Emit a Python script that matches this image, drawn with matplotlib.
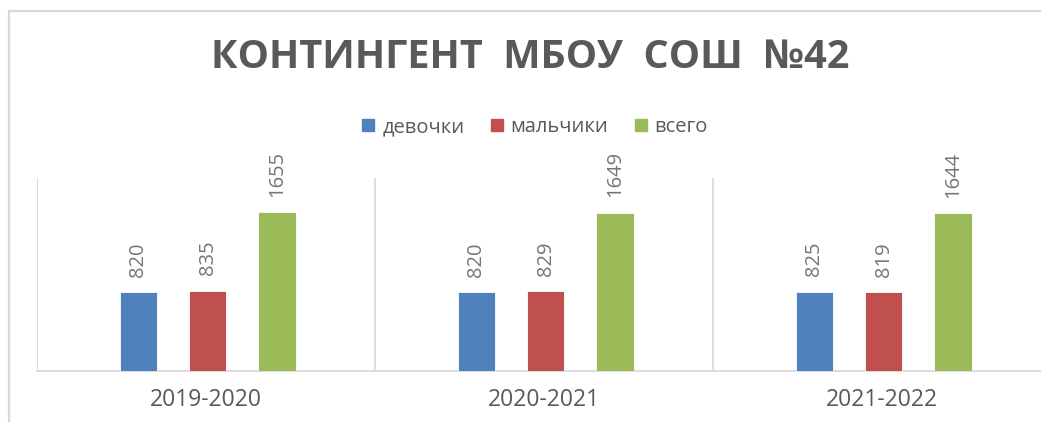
import matplotlib
matplotlib.use('Agg')
from matplotlib import pyplot as plt
from matplotlib.lines import Line2D
from matplotlib.patches import Rectangle
import numpy as np

# данные
years = ['2019-2020', '2020-2021', '2021-2022']
series_names = ['девочки', 'мальчики', 'всего']
girls = [820, 820, 825]
boys = [835, 829, 819]
total = [1655, 1649, 1644]

colors = ['#4F81BD', '#C0504D', '#9BBB59']
TEXT = '#595959'
GRID = '#D9D9D9'

plt.rcParams['font.family'] = ['Open Sans', 'DejaVu Sans']

W, H = 1041, 422
fig = plt.figure(figsize=(W / 100, H / 100), dpi=100)

# рамка диаграммы (справа и снизу обрезана)
fig.patches.append(Rectangle((9 / W, -0.1), 1.2, 1 - 11 / H + 0.1,
                             transform=fig.transFigure, fill=False,
                             edgecolor=GRID, linewidth=1.6))

# область построения: от 37 px, категория 338 px шириной
ax = fig.add_axes([37 / W, (H - 371) / H, 3 * 338 / W, 193 / H])
ax.set_clip_on(False)

x = np.arange(len(years))
bar_w = 0.11
offsets = [-0.2, 0.005, 0.21]
for i, vals in enumerate([girls, boys, total]):
    bars = ax.bar(x + offsets[i], vals, bar_w, color=colors[i],
                  edgecolor='white', linewidth=0.6, zorder=3)
    for b, v in zip(bars, vals):
        ax.annotate(str(v), (b.get_x() + b.get_width() / 2, v),
                    xytext=(0, 11), textcoords='offset points',
                    rotation=90, ha='center', va='bottom',
                    fontsize=14.5, color='#757575')

ax.set_xlim(-0.5, 2.5)
ax.set_ylim(0, 2008)
ax.set_yticks([])
ax.set_xticks(x)
ax.set_xticklabels(years, fontsize=16.5, color=TEXT)
ax.tick_params(axis='x', length=0, pad=12)
ax.set_xticks(np.arange(-0.5, 3, 1), minor=True)
ax.tick_params(axis='x', which='minor', length=0)
ax.grid(True, which='minor', axis='x', color=GRID, linewidth=1.3, zorder=0)
for s in ['top', 'right', 'left']:
    ax.spines[s].set_visible(False)
ax.spines['bottom'].set_color(GRID)
ax.spines['bottom'].set_linewidth(1.3)

fig.text(0.509, 1 - 58 / H, 'КОНТИНГЕНТ  МБОУ  СОШ  №42', ha='center',
         va='center', fontsize=28.5, fontweight='bold', color=TEXT)

handles = [Line2D([], [], marker='s', linestyle='none', markersize=8,
                  markerfacecolor=c, markeredgecolor=c) for c in colors]
fig.legend(handles, series_names, loc='center', ncol=3,
           bbox_to_anchor=(0.514, 1 - 127 / H), frameon=False,
           fontsize=14.5, labelcolor=TEXT, handlelength=0.6,
           handletextpad=0.4, columnspacing=1.3, borderpad=0)

plt.savefig('out.png', dpi=100)
